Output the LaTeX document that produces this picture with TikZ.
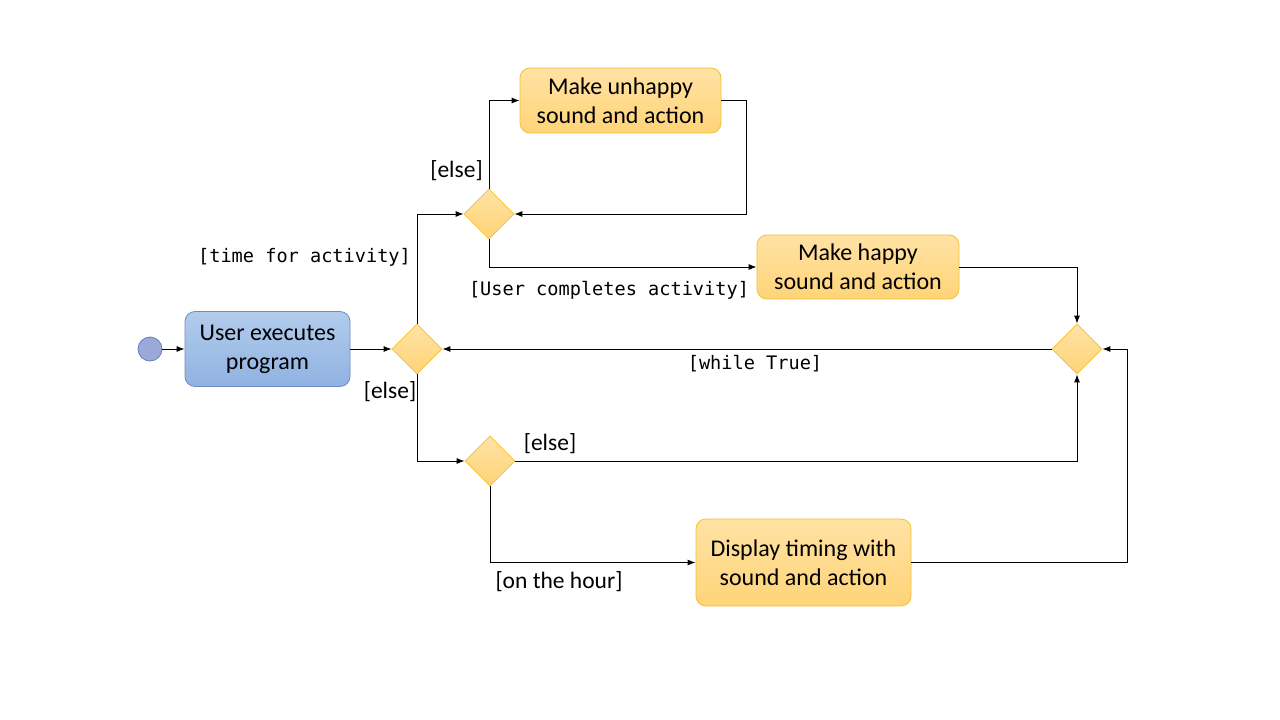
\documentclass[tikz,border=0pt]{standalone}
\usepackage{fontspec}
\setmainfont{Carlito}
\newfontfamily\monof{DejaVu Sans Mono}
\usetikzlibrary{shapes.geometric,arrows.meta}
\definecolor{bluetop}{HTML}{B2CCEC}
\definecolor{bluebot}{HTML}{90B2E2}
\definecolor{bluestroke}{HTML}{6C8EBF}
\definecolor{ortop}{HTML}{FFE2A4}
\definecolor{orbot}{HTML}{FFD478}
\definecolor{orstroke}{HTML}{F2C230}
\definecolor{startfill}{HTML}{9BA9D9}
\definecolor{startstroke}{HTML}{6C7FC0}
\tikzset{
  action/.style={rectangle, rounded corners=10pt, inner sep=0pt, align=center,
    font=\fontsize{24}{29}\selectfont, top color=ortop, bottom color=orbot, draw=orstroke, line width=0.8pt},
  bluebox/.style={action, top color=bluetop, bottom color=bluebot, draw=bluestroke},
  decision/.style={diamond, aspect=1, inner sep=0pt, minimum width=50pt, minimum height=50pt,
    top color=ortop, bottom color=orbot, draw=orstroke, line width=0.8pt},
  arr/.style={draw=black, line width=0.9pt, -{Latex[length=8pt,width=6pt]}},
  lbl/.style={inner sep=0pt, font=\fontsize{23.5}{27}\selectfont},
  mlbl/.style={inner sep=0pt, font=\monof\fontsize{18.6}{22}\selectfont}
}
\begin{document}
\begin{tikzpicture}[x=1pt,y=-1pt]
\useasboundingbox[fill=white] (0,0) rectangle (1280,720);
\node[circle, minimum size=24pt, inner sep=0pt, fill=startfill, draw=startstroke, line width=0.8pt] (start) at (150,349) {};
\node[bluebox, minimum width=165pt, minimum height=75pt] (user) at (267.5,349) {User executes\\program};
\node[decision] (d1) at (417,349) {};
\node[decision] (d2) at (489,214) {};
\node[decision] (d3) at (490,461) {};
\node[decision] (d4) at (1077,349) {};
\node[action, minimum width=201pt, minimum height=65pt] (unhappy) at (620.5,100.5) {Make unhappy\\sound and action};
\node[action, minimum width=202pt, minimum height=64pt] (happy) at (858,267) {Make happy\\sound and action};
\node[action, minimum width=215pt, minimum height=87pt] (disp) at (803.5,562.5) {Display timing with\\sound and action};

\draw[arr] (start) -- (user);
\draw[arr] (user) -- (d1.west);
\draw[arr] (d1.north) |- (d2.west);
\draw[arr] (d2.north) |- (unhappy.west);
\draw[arr] (unhappy.east) -- ++(25,0) |- (d2.east);
\draw[arr] (d2.south) |- (happy.west);
\draw[arr] (happy.east) -| (d4.north);
\draw[arr] (d4.west) -- (d1.east);
\draw[arr] (d1.south) |- (d3.west);
\draw[arr] (d3.east) -| (d4.south);
\draw[arr] (d3.south) |- (disp.west);
\draw[arr] (disp.east) -- ++(216,0) |- (d4.east);

\node[lbl] (l1) at (456.5,171) {[else]};
\node[mlbl] (l2) at (304.5,257) {[time for activity]};
\node[mlbl] (l3) at (609,290) {[User completes activity]};
\node[mlbl] (l4) at (755,364) {[while True]};
\node[lbl] (l5) at (390,392) {[else]};
\node[lbl] (l6) at (550,444) {[else]};
\node[lbl] (l7) at (559,582) {[on the hour]};
\end{tikzpicture}
\end{document}
